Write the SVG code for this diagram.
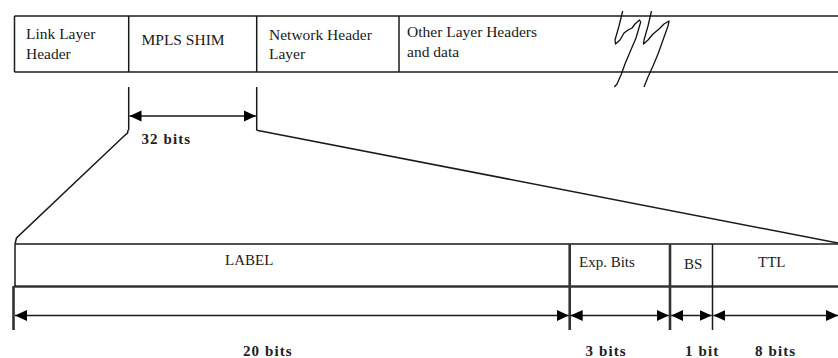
<svg xmlns="http://www.w3.org/2000/svg" width="838" height="358" viewBox="0 0 838 358">
  <style>
    .ln { stroke: #1a1a1a; stroke-width: 1.5; fill: none; }
    .thick { stroke: #333; stroke-width: 2.6; fill: none; }
    .lbl { font-family: "Liberation Serif", "Times New Roman", serif; font-size: 15.5px; fill: #1a1a1a; }
    .cell { font-family: "Liberation Serif", "Times New Roman", serif; font-size: 15px; fill: #1a1a1a; }
    .bits { font-family: "Liberation Serif", "Times New Roman", serif; font-size: 15px; font-weight: bold; fill: #222; letter-spacing: 1.1px; }
    .arr { stroke: #1a1a1a; stroke-width: 1.5; fill: none; marker-start: url(#head); marker-end: url(#head); }
  </style>
  <defs>
    <marker id="head" viewBox="0 0 12 12" refX="12" refY="6" markerWidth="12" markerHeight="12" markerUnits="userSpaceOnUse" orient="auto-start-reverse">
      <path d="M0,0.5 L12,6 L0,11.5 Z" fill="#000"/>
    </marker>
  </defs>

  <rect width="838" height="358" fill="#fff"/>

  <!-- packet: header sequence -->
  <g id="packet">
    <line class="ln" x1="14.5" y1="16" x2="838" y2="16"/>
    <line class="ln" x1="14.5" y1="72" x2="838" y2="72"/>
    <g id="link-header">
      <line class="ln" x1="14.5" y1="16" x2="14.5" y2="72"/>
      <text class="lbl" x="26" y="39">Link Layer</text>
      <text class="lbl" x="26" y="59">Header</text>
    </g>
    <g id="mpls-shim">
      <line class="ln" x1="128.7" y1="16" x2="128.7" y2="72"/>
      <text class="lbl" x="141.5" y="45">MPLS SHIM</text>
    </g>
    <g id="network-header">
      <line class="ln" x1="256.7" y1="16" x2="256.7" y2="72"/>
      <text class="lbl" x="269" y="40">Network Header</text>
      <text class="lbl" x="269" y="59">Layer</text>
    </g>
    <g id="other-headers">
      <line class="ln" x1="399" y1="16" x2="399" y2="72"/>
      <text class="lbl" x="407" y="37">Other Layer Headers</text>
      <text class="lbl" x="407" y="57">and data</text>
    </g>
    <!-- break marks -->
    <g id="break" stroke="#111" stroke-width="1.3" fill="none" stroke-linejoin="round">
      <path d="M622.7,11 L619,26 L615,40 L615.5,44 L620,40 L624,33 L628,30 L632,28 L635,24 L639.5,20 L640.7,22 L636,38 L630,52 L625,64 L621,75 L617,84 L614.3,87"/>
      <path d="M651.5,11 L648,26 L644,40 L643.5,44 L648,40 L653,34 L659,29 L664,24 L669,21 L668,26 L663,40 L658,54 L653,66 L648,77 L644,87"/>
    </g>
  </g>

  <!-- MPLS shim header fields -->
  <g id="shim-fields">
    <line class="ln" x1="15" y1="244" x2="838" y2="244"/>
    <line class="thick" x1="14" y1="286.5" x2="838" y2="286.5"/>
    <line class="ln" x1="15" y1="244" x2="15" y2="286"/>
    <line class="thick" x1="13.5" y1="286" x2="13.5" y2="330"/>
    <g id="label-field">
      <text class="cell" x="225" y="265">LABEL</text>
    </g>
    <g id="exp-field">
      <line class="thick" x1="569.7" y1="244" x2="569.7" y2="330" stroke-width="2"/>
      <text class="cell" x="579" y="267">Exp. Bits</text>
    </g>
    <g id="bs-field">
      <line class="thick" x1="670" y1="244" x2="670" y2="330" stroke-width="2.2"/>
      <text class="cell" x="684" y="269">BS</text>
    </g>
    <g id="ttl-field">
      <line class="ln" x1="712.5" y1="244" x2="712.5" y2="330"/>
      <text class="cell" x="758" y="267">TTL</text>
    </g>
  </g>

  <!-- dimension lines and expansion connectors -->
  <g id="connectors">
    <line class="ln" x1="128.7" y1="87" x2="128.7" y2="130"/>
    <line class="ln" x1="256.7" y1="87" x2="256.7" y2="130"/>
    <line class="arr" x1="129.5" y1="116" x2="255.9" y2="116"/>
    <polyline class="ln" points="128.2,130 127.5,133 123,137 16.5,238 15,244"/>
    <polyline class="ln" points="256.5,130 258,130.5 838,243"/>

    <line class="arr" x1="15" y1="315.5" x2="568.8" y2="315.5"/>
    <line class="arr" x1="570.7" y1="315.5" x2="668.8" y2="315.5"/>
    <line class="arr" x1="671.2" y1="315.5" x2="711.6" y2="315.5"/>
    <line class="arr" x1="713.4" y1="315.5" x2="838" y2="315.5"/>
  </g>

  <g id="bit-widths">
    <text class="bits" x="141.5" y="144" font-size="16">32 bits</text>
    <text class="bits" x="243" y="356">20 bits</text>
    <text class="bits" x="585.5" y="356">3 bits</text>
    <text class="bits" x="685" y="356">1 bit</text>
    <text class="bits" x="755" y="356">8 bits</text>
  </g>
</svg>
